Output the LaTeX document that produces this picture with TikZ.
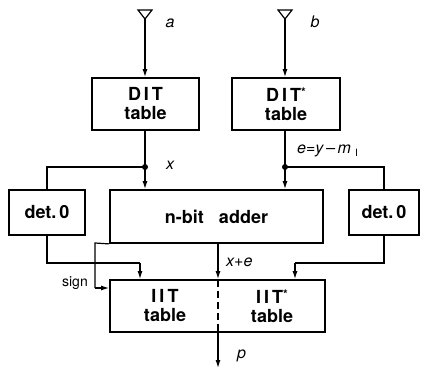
\documentclass[tikz,border=0pt]{standalone}
\usepackage{fontspec}
\setmainfont{TeX Gyre Heros}
\usetikzlibrary{arrows.meta}
\begin{document}
\begin{tikzpicture}[x=1pt,y=-1pt,
  blk/.style={draw,line width=1.8pt,inner sep=0pt,align=center,
    font=\bfseries\fontsize{18}{19}\selectfont},
  txt/.style={inner sep=0pt,align=center,font=\bfseries\fontsize{18}{19}\selectfont},
  lab/.style={inner sep=0pt,font=\itshape\fontsize{16}{18}\selectfont},
  wire/.style={line width=1.2pt},
  arr/.style={wire,-{Latex[length=8pt,width=5pt]}},
  dot/.style={circle,fill,inner sep=0pt,minimum size=6pt}]
\useasboundingbox (0,0) rectangle (425,371);
% boxes
\node[blk,minimum width=107pt,minimum height=52pt] (dit) at (145.5,104) {D\hspace{3pt}I\hspace{3pt}T\\table};
\node[blk,minimum width=108pt,minimum height=52pt] (dits) at (286,104) {D\hspace{3pt}I\hspace{3pt}T\raisebox{5pt}{\fontsize{12}{12}\selectfont *}\\table};
\node[blk,minimum width=76pt,minimum height=45pt] (detL) at (47,212.5) {det.\,0};
\node[blk,minimum width=213pt,minimum height=53pt] (adder) at (216.5,216.5) {n-bit\ \ \ adder};
\node[blk,minimum width=70pt,minimum height=45pt] (detR) at (384,212.5) {det.\,0};
\node[blk,minimum width=215pt,minimum height=52pt] (iit) at (217.5,306) {};
\node[txt] (iitl) at (165,306) {I\hspace{3pt}I\hspace{3pt}T\\table};
\node[txt] (iitr) at (272,306) {I\hspace{3pt}I\hspace{3pt}T\raisebox{5pt}{\fontsize{12}{12}\selectfont *}\\table};
\draw[line width=1.2pt,dash pattern=on 7pt off 4pt] (218,280) -- (218,332);
% inputs
\coordinate (ina) at (145,19);
\coordinate (inb) at (285,19);
\draw[wire] (138,10) -- (152,10) -- (ina) -- cycle;
\draw[wire] (278,10) -- (292,10) -- (inb) -- cycle;
\draw[arr] (ina) -- (ina |- dit.north);
\draw[arr] (inb) -- (inb |- dits.north);
\node[lab] (la) at (170,23) {a};
\node[lab] (lb) at (315,22) {b};
% junctions
\coordinate (jL) at (145,167);
\coordinate (jR) at (285,167);
\draw[wire] (jL |- dit.south) -- (jL);
\draw[wire] (jR |- dits.south) -- (jR);
\draw[arr] (jL) -- (jL |- adder.north);
\draw[arr] (jR) -- (jR |- adder.north);
\draw[wire] (jL) -| (detL.north);
\draw[wire] (jR) -| (detR.north);
\node[dot] (dL) at (jL) {};
\node[dot] (dR) at (jR) {};
\node[lab] (lx) at (170,165) {x};
\node[lab,anchor=base west] (le) at (297,154) {e=y\,--\,m\hspace{4pt}\raisebox{-3pt}{\normalfont\fontsize{10}{10}\selectfont I}};
% det outputs
\coordinate (bL) at (140,263);
\coordinate (bR) at (295,263);
\draw[wire] (detL.south) |- (bL);
\draw[arr] (bL) -- (bL |- iit.north);
\draw[wire] (detR.south) |- (bR);
\draw[arr] (bR) -- (bR |- iit.north);
% sign
\coordinate (s1) at (95,243);
\coordinate (s2) at (95,288);
\draw[wire] (adder.south west) -- (s1) -- (s2);
\draw[arr] (s2) -- (s2 -| iit.west);
\node[inner sep=0pt,anchor=east,font=\fontsize{14}{16}\selectfont] (ls) at (88,283) {sign};
% adder output
\coordinate (ao) at (218,243);
\draw[arr] (ao) -- (ao |- iit.north);
\node[lab,anchor=west] (lxe) at (226,262) {x+e};
% p output
\coordinate (po) at (218,332);
\draw[arr] (po) -- (218,368);
\node[lab,anchor=west] (lp) at (237,356) {p};
\end{tikzpicture}
\end{document}
